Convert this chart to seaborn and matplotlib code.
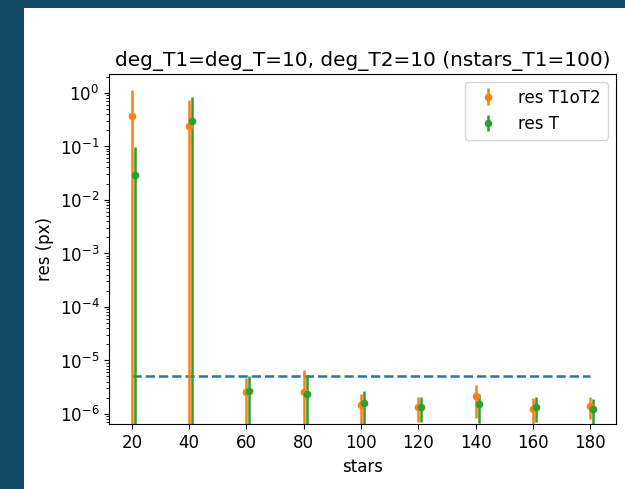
import matplotlib
matplotlib.use("Agg")
import matplotlib.pyplot as plt
import pandas as pd
import seaborn as sns

stars = [20, 40, 60, 80, 100, 120, 140, 160, 180]

res_t1ot2 = [0.36, 0.234, 2.61e-6, 2.54e-6, 1.47e-6, 1.37e-6, 2.15e-6, 1.24e-6, 1.43e-6]
res_t1ot2_err = [0.78, 0.48, 2.1e-6, 4.0e-6, 0.9e-6, 0.67e-6, 1.3e-6, 0.72e-6, 0.61e-6]

res_t = [0.029, 0.30, 2.65e-6, 2.37e-6, 1.58e-6, 1.37e-6, 1.52e-6, 1.37e-6, 1.26e-6]
res_t_err = [0.066, 0.53, 2.35e-6, 3.0e-6, 1.15e-6, 0.67e-6, 0.85e-6, 0.67e-6, 0.62e-6]

threshold = 5e-6

BG = "#124a66"

fig = plt.figure(figsize=(6.25, 4.895), dpi=100, facecolor=BG)
# white page area of the screenshot
fig.patches.append(
    plt.Rectangle((24 / 625, 0), 1, 1 - 8 / 489, transform=fig.transFigure,
                  facecolor="white", edgecolor="none", zorder=-10)
)
ax = fig.add_axes([109 / 625, 1 - 424 / 489, 507 / 625, 350 / 489])

ax.set_yscale("log")

thr_df = pd.DataFrame({"stars": [stars[0], stars[-1]], "res": [threshold, threshold]})
sns.lineplot(data=thr_df, x="stars", y="res", color="C0", linestyle="--",
             linewidth=1.8, legend=False, ax=ax)

ax.errorbar(stars, res_t1ot2, yerr=res_t1ot2_err, fmt="o", color="C1",
            markersize=4.5, elinewidth=1.8, label="res T1oT2")
ax.errorbar([s + 1 for s in stars], res_t, yerr=res_t_err, fmt="o", color="C2",
            markersize=4.5, elinewidth=1.8, label="res T")

ax.set_xlim(12, 189)
ax.set_ylim(6.5e-7, 2.27)
ax.set_xticks(stars)
ax.tick_params(labelsize=12)
ax.set_xlabel("stars", fontsize=12)
ax.set_ylabel("res (px)", fontsize=12)
ax.set_title("deg_T1=deg_T=10, deg_T2=10 (nstars_T1=100)", fontsize=14.4)
ax.legend(loc="upper right", fontsize=12)

fig.savefig("out.png", dpi=100, facecolor=fig.get_facecolor())
